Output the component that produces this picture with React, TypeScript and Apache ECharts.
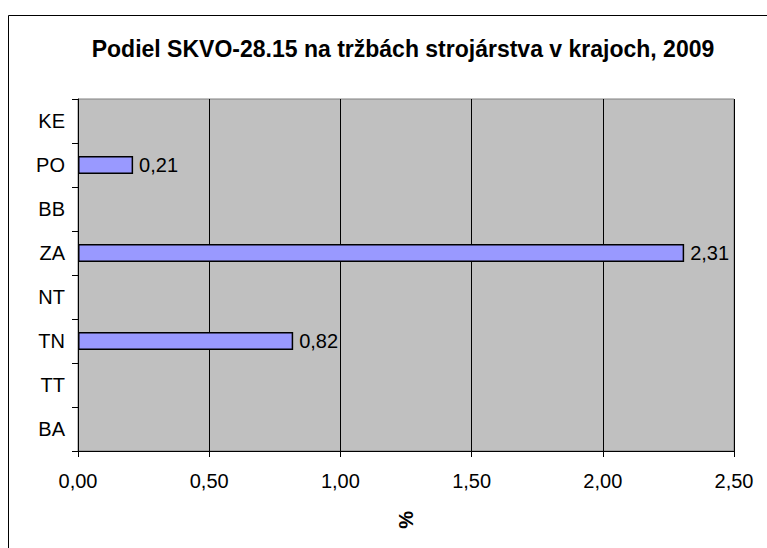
import React, { useEffect, useRef } from "react";
import * as echarts from "echarts";

const categories = ["BA", "TT", "TN", "NT", "ZA", "BB", "PO", "KE"];
const values: (number | null)[] = [null, null, 0.82, null, 2.31, null, 0.21, null];
const xTicks = { min: 0, max: 2.5, interval: 0.5 };
const titleText = "Podiel SKVO-28.15 na tržbách strojárstva v krajoch, 2009";
const xAxisName = "%";

const FONT = "'Liberation Sans', Arial, sans-serif";
const fmt = (v: number, d: number) => v.toFixed(d).replace(".", ",");

export default function App() {
  const ref = useRef<HTMLDivElement>(null);
  useEffect(() => {
    if (!ref.current) return;
    const chart = echarts.init(ref.current, null, { renderer: "svg" });
    chart.setOption({
      animation: false,
      backgroundColor: "#ffffff",
      title: {
        text: titleText,
        left: 398,
        top: 32,
        textAlign: "center",
        textStyle: { fontFamily: FONT, fontSize: 23, fontWeight: "bold", color: "#000" },
      },
      graphic: [
        {
          type: "rect",
          shape: { x: 8.5, y: 15.5, width: 900, height: 700 },
          style: { fill: "none", stroke: "#000", lineWidth: 1 },
          silent: true,
          z: -1,
        },
      ],
      grid: {
        left: 78,
        top: 99,
        right: 33,
        bottom: 97,
        show: true,
        backgroundColor: "#C0C0C0",
        borderColor: "#808080",
        borderWidth: 1,
      },
      xAxis: {
        type: "value",
        min: xTicks.min,
        max: xTicks.max,
        interval: xTicks.interval,
        name: xAxisName,
        nameLocation: "middle",
        nameGap: 60,
        nameRotate: 90,
        nameTextStyle: { fontFamily: FONT, fontSize: 20, fontWeight: "bold", color: "#000" },
        axisLine: { show: true, lineStyle: { color: "#000", width: 1 } },
        axisTick: { show: true, length: 6, lineStyle: { color: "#000" } },
        axisLabel: {
          fontFamily: FONT,
          fontSize: 20,
          color: "#000",
          margin: 20,
          formatter: (v: number) => fmt(v, 2),
        },
        splitLine: { show: true, lineStyle: { color: "#000", width: 1 } },
      },
      yAxis: {
        type: "category",
        data: categories,
        axisLine: { show: true, lineStyle: { color: "#000", width: 1 } },
        axisTick: { show: true, length: 6, alignWithLabel: false, lineStyle: { color: "#000" } },
        axisLabel: { fontFamily: FONT, fontSize: 20, color: "#000", margin: 13 },
        splitLine: { show: false },
      },
      series: [
        {
          type: "bar",
          data: values,
          barWidth: 18,
          itemStyle: { color: "#9999FF", borderColor: "#000", borderWidth: 1.5 },
          label: {
            show: true,
            position: "right",
            distance: 6,
            fontFamily: FONT,
            fontSize: 20,
            color: "#000",
            formatter: (p: any) => (p.value == null ? "" : fmt(p.value, 2)),
          },
        },
      ],
    });
    return () => chart.dispose();
  }, []);
  return (
    <div
      ref={ref}
      style={{ position: "fixed", left: 0, top: 0, width: 767, height: 548 }}
    />
  );
}
